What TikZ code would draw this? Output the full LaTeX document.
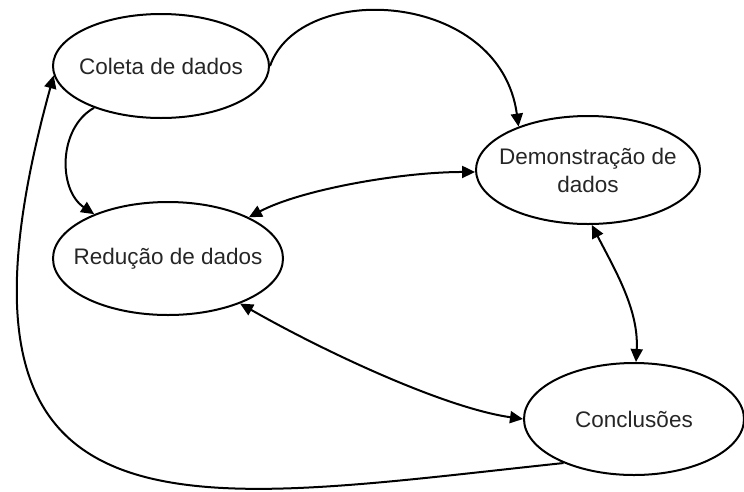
\documentclass[tikz,border=0pt]{standalone}
\usepackage{fontspec}
\setmainfont{Liberation Sans}
\usetikzlibrary{shapes.geometric,arrows.meta}

\tikzset{
  stage/.style={ellipse, draw=black, line width=2pt, inner sep=0pt},
  stagetext/.style={text=black!85, align=center, inner sep=0pt,
    font=\fontsize{22.5}{28}\selectfont},
  tip/.tip={Triangle[length=13pt,width=12pt]},
  flow/.style={line width=2pt, -tip},
  twoway/.style={line width=2pt, tip-tip}
}

\begin{document}
\begin{tikzpicture}[x=1pt,y=-1pt]
  \useasboundingbox (0,0) rectangle (744,491);

  % stages of the analysis (ellipse size fixed, text placed at the centre)
  \node[stage, minimum width=216pt, minimum height=104pt,
        label={[stagetext]center:Coleta de dados}] (coleta) at (161,66) {};
  \node[stage, minimum width=224pt, minimum height=108pt,
        label={[stagetext]center:Demonstração de\\dados}] (demo) at (588,170) {};
  \node[stage, minimum width=230pt, minimum height=113pt,
        label={[stagetext]center:Redução de dados}] (reducao) at (168,258.5) {};
  \node[stage, minimum width=220pt, minimum height=112pt,
        label={[stagetext]center:Conclusões}] (concl) at (634,419) {};

  % connections between stages
  \draw[flow] (coleta.east) .. controls (300,-20) and (500,-10) .. (demo.148);
  \draw[flow] (coleta.212) .. controls (58,128) and (58,190) .. (reducao.149);
  \draw[twoway] (reducao.27) .. controls (300,190) and (400,172) .. (demo.181);
  \draw[twoway] (demo.274) .. controls (615,270) and (639,310) .. (concl.88);
  \draw[twoway] (reducao.-32) .. controls (325,352) and (445,408) .. (concl.west);
  \draw[flow] (concl.212) .. controls (185,503) and (-80,560) .. (coleta.185);
\end{tikzpicture}
\end{document}
